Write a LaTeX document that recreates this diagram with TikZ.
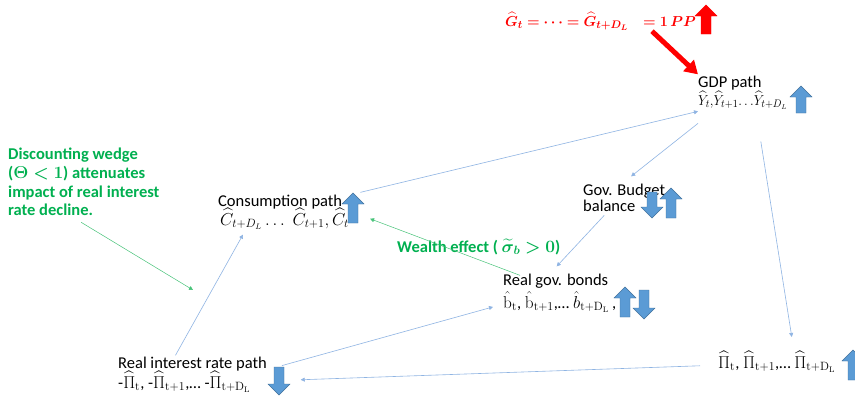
\documentclass[tikz,border=0pt]{standalone}
\usepackage{amsmath}
\usepackage{bm}
\usepackage{graphicx}
\usepackage[no-math]{fontspec}
\setmainfont{Carlito}
\usetikzlibrary{arrows.meta,calc}
\definecolor{blkfill}{RGB}{91,155,213}
\definecolor{blkline}{RGB}{65,113,156}
\definecolor{lnblue}{RGB}{143,180,227}
\definecolor{grtext}{RGB}{0,176,80}
\definecolor{grline}{RGB}{70,195,120}
\definecolor{redc}{RGB}{255,0,0}
\newcommand{\blkup}[4][blk]{\filldraw[#1] ({#2-5},#4) -- ({#2-5},{#3+11}) -- ({#2-11},{#3+11}) -- (#2,#3) -- ({#2+11},{#3+11}) -- ({#2+5},{#3+11}) -- ({#2+5},#4) -- cycle;}
\newcommand{\blkdown}[4][blk]{\filldraw[#1] ({#2-5},#3) -- ({#2-5},{#4-11}) -- ({#2-11},{#4-11}) -- (#2,#4) -- ({#2+11},{#4-11}) -- ({#2+5},{#4-11}) -- ({#2+5},#3) -- cycle;}
\begin{document}
\begin{tikzpicture}[x=1pt,y=-1pt,
  lbl/.style={anchor=base west,inner sep=0pt,font=\fontsize{16.5}{19}\selectfont},
  glbl/.style={anchor=base west,inner sep=0pt,font=\fontsize{16.5}{19}\selectfont\bfseries,text=grtext},
  rlbl/.style={anchor=base west,inner sep=0pt,font=\fontsize{15.5}{18}\selectfont\bfseries,text=redc},
  blk/.style={fill=blkfill,draw=blkline,line width=0.4pt},
  conn/.style={draw=lnblue,line width=0.6pt,-{Triangle[length=4pt,width=4pt]}},
  gconn/.style={draw=grline,line width=0.5pt,-{Triangle[length=4pt,width=4pt]}}]
\useasboundingbox (0,0) rectangle (855,399);
\fill[white] (0,0) rectangle (855,399);

% texts
\node[rlbl] (red) at (505,26) {$\bm{\widehat{G}_t=\cdots=\widehat{G}_{t+D_L}}$};
\node[rlbl] (redb) at (643,26) {$\bm{=1\,PP}$};
\node[lbl] (gdp) at (698,87) {GDP path};
\node[lbl,font=\fontsize{15}{18}\selectfont] (gdpm) at (698,105) {\scalebox{0.93}[1]{$\widehat{Y}_t{,}\widehat{Y}_{t+1}{\ldots}\widehat{Y}_{t+D_L}$}};
\node[glbl] (d1) at (8,159) {Discounting wedge};
\node[glbl] (d2) at (8,178) {($\bm{\Theta<1}$) attenuates};
\node[glbl] (d3) at (8,197) {impact of real interest};
\node[glbl] (d4) at (8,215) {rate decline.};
\node[lbl] (cons) at (218,206) {Consumption path};
\node[lbl] (consm) at (220,225) {$\widehat{C}_{t+D_L}\ldots\;\widehat{C}_{t+1}{,}\,\widehat{C}_t$};
\node[lbl] (gov) at (583,195) {Gov. Budget};
\node[lbl] (bal) at (583,211) {balance};
\node[glbl] (wealth) at (397,252) {Wealth effect ( $\bm{\widetilde{\sigma}_b>0}$)};
\node[lbl] (bonds) at (503,285) {Real gov. bonds};
\node[lbl] (bondsm) at (503,308) {$\hat{\mathrm{b}}_{\mathrm{t}}$, $\hat{\mathrm{b}}_{\mathrm{t+1}}$,\ldots{} $\hat{b}_{\mathrm{t+D_L}}$\,,};
\node[lbl] (int) at (118,368) {Real interest rate path};
\node[lbl] (intm) at (118,388) {-$\widehat{\Pi}_{\mathrm{t}}$, -$\widehat{\Pi}_{\mathrm{t+1}}$,\ldots{} -$\widehat{\Pi}_{\mathrm{t+D_L}}$};
\node[lbl] (pi) at (718,368) {$\widehat{\Pi}_{\mathrm{t}}$, $\widehat{\Pi}_{\mathrm{t+1}}$,\ldots{} $\widehat{\Pi}_{\mathrm{t+D_L}}$};
\coordinate (dend) at (193,290);

% connectors
\draw[conn] ($(cons.north east)+(18,-2)$) -- ($(gdpm.south west)+(0,2)$);
\draw[conn] ($(gdpm.south west)+(0,14)$) -- ($(gov.north)+(7,-7)$);
\draw[conn] ($(gdpm.south)+(18,32)$) -- ($(pi.north)+(15,-14)$);
\draw[conn] ($(pi.west)+(-18,4)$) -- ($(intm.east)+(50,-2)$);
\draw[conn] ($(int.east)+(15,2)$) -- ($(bondsm.west)+(-10,5)$);
\draw[conn] ($(int.north)+(-17,-1)$) -- ($(consm.south west)+(23,5)$);
\draw[conn] ($(bal.south)+(-5,4)$) -- ($(bonds.north)+(1,-7)$);
\draw[gconn] ($(bonds.north west)+(17,2)$) -- ($(consm.east)+(21,0)$);
\draw[gconn] ($(d4.south east)+(-12,7)$) -- (dend);
\draw[draw=redc,line width=5pt,-{Triangle[length=13pt,width=15pt]}] ($(redb.south west)+(9,5)$) -- ($(gdp.north west)+(0,-1)$);

% block arrows
\blkup[fill=redc,draw=redc]{706}{5}{34}
\blkup{801}{86}{113}
\blkup{353}{193}{223}
\blkdown{652}{192}{218}
\blkup{671}{188}{218}
\blkup{625}{287}{317}
\blkdown{644}{290}{319}
\blkdown{279}{367}{395}
\begin{scope}
\clip (0,0) rectangle (855,399);
\blkup{853}{350}{380}
\end{scope}
\end{tikzpicture}
\end{document}
